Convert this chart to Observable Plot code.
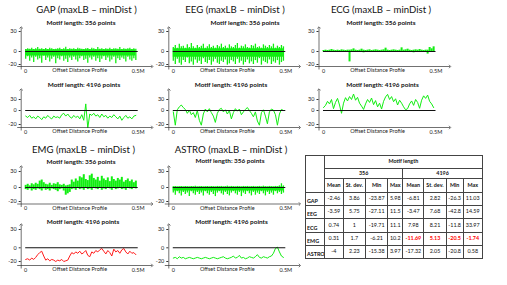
<!DOCTYPE html>
<html><head><meta charset="utf-8">
<script src="https://cdn.jsdelivr.net/npm/d3@7"></script>
<script src="https://cdn.jsdelivr.net/npm/@observablehq/plot@0.6"></script>
<style>
html,body{margin:0;padding:0;background:#fff;}
#root{position:relative;width:507px;height:285px;overflow:hidden;font-family:Lato,"Open Sans",sans-serif;color:#111;}
.layer{position:absolute;left:0;top:0;}
.title{position:absolute;font-size:9.6px;white-space:nowrap;transform:translate(-50%,-50%);line-height:1;}
.sub{position:absolute;font-size:6.4px;font-weight:bold;white-space:nowrap;transform:translate(-50%,-50%);line-height:1;}
#tbl{position:absolute;left:305px;top:155px;border-collapse:collapse;table-layout:fixed;font-size:5.4px;line-height:1;}
#tbl td{border:0.8px solid #444;padding:0;text-align:center;vertical-align:middle;overflow:hidden;white-space:nowrap;}
#tbl td.lab{text-align:left;vertical-align:bottom;font-weight:bold;padding-left:1px;padding-bottom:0.5px;}
#tbl td.hd{font-weight:bold;}
#tbl td.red{color:#ff0000;font-weight:bold;}
</style>
</head><body>
<div id="root"></div>
<script>
// ---------------- data ----------------
const sampleStep = 8900; // offset units between read samples

const gap356Hi = [3,4,3.5,5,3,4,6,3.5,4,3,4.5,3,5,4,3,3.5,4,5,3,4,6.5,3,4,3.5,4,3,5,4,3.5,3,4,4.5,3,5,4,3,6,3.5,4,3,4,3.5,5,3,4,4,3.5,6,3,4,3.5,4,5,3,4,3.5];
const gap356Lo = [-12,-8,-15,-10,-17,-9,-13,-11,-18,-7,-14,-10,-16,-12,-9,-19,-11,-13,-8,-15,-12,-17,-10,-14,-9,-13,-16,-11,-8,-14,-12,-18,-10,-13,-9,-15,-11,-17,-12,-8,-14,-10,-16,-13,-9,-19,-11,-14,-10,-12,-16,-9,-13,-15,-11,-14];
const gap356Core = [-7, 2.5];
const gap4196 = [-8,-10,-7,-11,-9,-12,-8,-10,-13,-9,-11,-7,-10,-12,-8,-10,-9,-11,-6,-4,-8,-5,-9,-11,-7,-10,-8,-12,-6,-14,18,-25,-5,-7,-4,-8,-6,-10,-5,-9,-7,-11,-8,-10,-6,-9,-12,-8,-14,-10,-7,-11,-9,-12,-8,-7];

const eeg356Hi = [6,9,5,11,7,8,5,10,6,12,7,5,9,6,8,11,5,7,10,6,8,5,9,7,11,6,8,5,10,7,6,9,12,5,8,7,10,6,5,9,8,11,6,7,5,10,8,6,9,7,11,5,8,6,9,7];
const eeg356Lo = [-15,-20,-12,-18,-21,-14,-17,-10,-19,-16,-21,-13,-18,-15,-20,-11,-17,-19,-14,-21,-16,-12,-18,-20,-15,-17,-13,-21,-19,-14,-16,-20,-12,-18,-15,-21,-17,-13,-19,-16,-20,-14,-18,-11,-21,-15,-17,-19,-13,-20,-16,-18,-14,-21,-17,-15];
const eeg356Core = [-9, 4];
const eeg4196 = [-2,-21,2,10,15,8,3,-4,1,-6,-3,-10,0,-14,-21,-5,4,-2,5,-3,-8,-17,-4,3,6,-2,2,-5,0,-12,-3,5,-1,4,-6,-2,3,8,0,-4,-9,-2,-15,-21,-3,2,-8,-19,-2,4,1,-6,-21,-5,3,0];

const ecg356Hi = [1.5,2,1.5,2,3,2,1.5,2,1.5,2.5,2,1.5,2,2,2.5,4,2,1.5,2,3.5,2,1.5,2,2.5,1.5,2,2.5,2,1.5,2,2.5,5,2,1.5,2,2.5,2,1.5,2,5.5,2,2.5,3.5,2,1.5,2,2.5,2,3,2,1.5,2,2,6,4,7];
const ecg356Lo = [-0.5,0,-0.5,-1,0,-0.5,-1,0,-0.5,-1,0,-0.5,-1,-16,-0.5,0,-1,-0.5,0,-0.5,-2,0,-0.5,-1,0,-0.5,-1,0,-0.5,-1,0,-0.5,-1,-1.5,0,-0.5,-1,0,-0.5,-1,0,-0.5,-1,0,-0.5,-2,0,-0.5,-1,0,-0.5,-1,-4,-1,-0.5,-1];
const ecg4196 = [8,14,25,18,30,5,22,33,15,-4,20,35,26,38,30,45,28,36,20,12,3,18,30,22,34,16,27,10,20,4,25,37,44,30,38,24,32,15,28,20,10,2,5,18,26,14,30,22,6,28,40,33,42,25,18,8];

const emg356Hi = [4,6,3,7,5,8,6,12,14,9,6,5,8,4,7,6,9,5,4,6,3,4,5,14,10,16,12,20,18,24,15,13,22,25,17,14,19,12,21,16,13,18,11,20,15,12,17,14,19,10,13,16,11,14,9,12];
const emg356Lo = [-3,-4,-2,-5,-3,-4,-2,-3,-5,-2,-4,-3,-5,-2,-3,-4,-6,-3,-2,-5,-11,-9,-7,-3,-2,-4,-1,-3,-2,-4,-1,-3,-2,-4,-1,-2,-3,-1,-4,-2,-3,-1,-2,-4,-1,-3,-2,-1,-3,-2,-4,-1,-2,-3,-1,-2];
const emg4196 = [-17,-16,-18,-15,-17,-14,-10,-7,-5,-12,-18,-16,-19,-17,-18,-20,-18,-19,-17,-20,-19,-18,-12,-7,-9,-6,-8,-5,-9,-7,-4,-11,-13,-6,-8,-4,-6,-3,-1,-5,-9,-4,-7,-12,-2,-6,-4,-8,-3,-1,-6,-9,-5,-8,-7,-10];

const astro356Hi = [1.5,2,1,1.5,2,1,2,1.5,1,2,1.5,2.5,1,1.5,2,1,1.5,2,1,2,1.5,1,2,1.5,2,1,1.5,2.5,1,2,1.5,1,2,1.5,1,2,1.5,2,1,1.5,2,1,1.5,2,1,2.5,1.5,1,2,1.5,1,2,1.5,3,7,3];
const astro356Lo = [-8,-11,-6,-9,-12,-7,-10,-8,-13,-6,-9,-11,-7,-10,-8,-12,-6,-9,-11,-7,-10,-13,-8,-6,-9,-11,-7,-10,-12,-8,-6,-9,-11,-7,-13,-8,-10,-6,-9,-12,-7,-11,-8,-10,-6,-9,-12,-7,-10,-8,-11,-6,-9,-7,-10,-8];
const astro356Core = [-5, 1];
const astro4196 = [-15,-14,-16,-13,-15,-14,-16,-15,-14,-15,-16,-15,-14,-15,-16,-15,-14,-15,-16,-15,-14,-15,-16,-15,-14,-13,-15,-16,-15,-14,-12,-15,-14,-11,-15,-14,-16,-15,-13,-14,-15,-13,-10,-14,-15,-13,-14,-15,-13,-12,-8,-1,1,-6,-12,-14];

const yTicks = [-20, 0, 30];
const xTicks = [0, 500000];
const xTickLabels = ["0", "0.5M"];
const xLabel = "Offset Distance Profile";

const datasets = ["GAP", "EEG", "ECG", "EMG", "ASTRO"];
const motifLengths = ["356", "4196"];
const statNames = ["Mean", "St. dev.", "Min", "Max"];
const statsGAP   = ["-2.46","3.86","-23.87","5.98","-6.81","2.82","-26.3","11.03"];
const statsEEG   = ["-3.59","5.75","-27.11","11.5","-3.47","7.68","-42.8","14.59"];
const statsECG   = ["0.74","1","-19.71","11.1","7.98","8.21","-11.8","33.97"];
const statsEMG   = ["0.31","1.7","-6.21","10.2","-11.69","5.13","-20.5","-1.74"];
const statsASTRO = ["-4","2.23","-15.38","3.97","-17.32","2.05","-20.8","0.58"];

// ---------------- layout ----------------
const W = 507, H = 285;
const GREEN = "#11ee11", RED = "#ff1a1a";
const colAxis = [20.7, 168.3, 318.5];
const rowGeom = {
  A1: {range: [64, 51, 31], xAxis: 66, top: 27},
  A2: {range: [124, 110, 99], xAxis: 127, top: 89},
  B1: {range: [201, 187, 171], xAxis: 203.5, top: 166},
  B2: {range: [261, 247.3, 229], xAxis: 265, top: 224}
};
const titles = [
  {t: "GAP (maxLB – minDist )", x: 86.5, y: 9.5},
  {t: "EEG (maxLB – minDist )", x: 235, y: 9.5},
  {t: "ECG (maxLB – minDist )", x: 381, y: 9.5},
  {t: "EMG (maxLB – minDist )", x: 83.5, y: 150},
  {t: "ASTRO (maxLB – minDist )", x: 231, y: 150}
];
const subs = [
  {m: 0, x: 81, y: 23}, {m: 1, x: 84, y: 85},
  {m: 0, x: 245, y: 23}, {m: 1, x: 231, y: 85},
  {m: 0, x: 381, y: 23}, {m: 1, x: 382.5, y: 85},
  {m: 0, x: 81, y: 161.5}, {m: 1, x: 83, y: 221.5},
  {m: 0, x: 230, y: 161}, {m: 1, x: 231.5, y: 221.5}
];

const panels = [
  {col: 0, row: "A1", hi: gap356Hi, lo: gap356Lo, core: gap356Core},
  {col: 0, row: "A2", line: gap4196},
  {col: 1, row: "A1", hi: eeg356Hi, lo: eeg356Lo, core: eeg356Core},
  {col: 1, row: "A2", line: eeg4196},
  {col: 2, row: "A1", hi: ecg356Hi, lo: ecg356Lo},
  {col: 2, row: "A2", line: ecg4196},
  {col: 0, row: "B1", hi: emg356Hi, lo: emg356Lo},
  {col: 0, row: "B2", line: emg4196, color: RED},
  {col: 1, row: "B1", hi: astro356Hi, lo: astro356Lo, core: astro356Core},
  {col: 1, row: "B2", line: astro4196}
];

const root = document.getElementById("root");

for (const p of panels) {
  const ax = colAxis[p.col];
  const g = rowGeom[p.row];
  const xr = [ax + 4.5, ax + 117];
  const xs = d3.scaleLinear().domain([0, 500000]).range(xr);
  // the original axes are not uniform above / below zero: piecewise mapping applied as Plot's scale transform
  const ys = d3.scaleLinear().domain([-20, 0, 30]).range(g.range);
  const tickPos = yTicks.map(ys);
  const yAxisX = xs.invert(ax);
  const xAxisY = ys.invert(g.xAxis);
  const color = p.color || GREEN;
  const marks = [];
  if (p.hi) {
    const rows = p.hi.map((h, i) => ({x: i * sampleStep, hi: h, lo: p.lo[i]}));
    if (p.core) {
      const ends = [rows[0].x, rows[rows.length - 1].x];
      marks.push(Plot.areaY(ends, {x: d => d, y1: p.core[0], y2: p.core[1], fill: color}));
    }
    marks.push(Plot.ruleX(rows, {x: "x", y1: "lo", y2: "hi", stroke: color, strokeWidth: p.core ? 1.3 : 2}));
  } else {
    const rows = p.line.map((v, i) => ({x: i * sampleStep, v}));
    marks.push(Plot.line(rows, {x: "x", y: "v", stroke: color, strokeWidth: 1}));
  }
  marks.push(Plot.ruleY([0], {x1: 0, x2: 500000, stroke: "#111", strokeWidth: 1.1}));
  marks.push(Plot.link([0], {x1: yAxisX, x2: yAxisX, y1: ys.invert(g.xAxis + 3), y2: ys.invert(g.top), stroke: "#333", strokeWidth: 0.7, markerEnd: "arrow"}));
  marks.push(Plot.link([0], {x1: xs.invert(ax - 4), x2: xs.invert(ax + 131), y1: xAxisY, y2: xAxisY, stroke: "#333", strokeWidth: 0.7, markerEnd: "arrow"}));
  marks.push(Plot.axisY({ticks: tickPos, tickSize: 2, tickPadding: 2.5,
    tickFormat: d => String(yTicks[d3.minIndex(tickPos, t => Math.abs(t - d))]), fontSize: 5.5, stroke: "#333", label: null}));
  marks.push(Plot.axisX({ticks: xTicks, tickSize: 0, tickPadding: 2.5, tickFormat: d => xTickLabels[xTicks.indexOf(d)], fontSize: 5.5, label: null}));
  marks.push(Plot.text([xLabel], {text: d => d, frameAnchor: "bottom", dy: 5.5, fontSize: 5.5}));
  const svg = Plot.plot({
    width: W, height: H,
    marginLeft: ax, marginRight: W - xr[1], marginTop: g.top, marginBottom: H - g.xAxis,
    x: {domain: [0, 500000], range: xr},
    y: {type: "linear", transform: ys, domain: [g.range[0], g.range[2]], range: [g.range[0], g.range[2]]},
    style: {background: "transparent", overflow: "visible", fontFamily: "Lato, 'Open Sans', sans-serif", color: "#222"},
    marks
  });
  svg.classList.add("layer");
  root.appendChild(svg);
}

for (const t of titles) {
  const d = document.createElement("div");
  d.className = "title"; d.textContent = t.t;
  d.style.left = t.x + "px"; d.style.top = t.y + "px";
  root.appendChild(d);
}
for (const s of subs) {
  const d = document.createElement("div");
  d.className = "sub"; d.textContent = "Motif length: " + motifLengths[s.m] + " points";
  d.style.left = s.x + "px"; d.style.top = s.y + "px";
  root.appendChild(d);
}

// ---------------- table ----------------
const colW = [19, 18.7, 22.3, 22.3, 15, 21, 22.4, 17, 19];
const statsRows = [statsGAP, statsEEG, statsECG, statsEMG, statsASTRO];
const tbl = document.createElement("table");
tbl.id = "tbl";
tbl.style.width = d3.sum(colW) + "px";
const cg = document.createElement("colgroup");
for (const w of colW) { const c = document.createElement("col"); c.style.width = w + "px"; cg.appendChild(c); }
tbl.appendChild(cg);
function tr(h) { const r = document.createElement("tr"); r.style.height = h + "px"; tbl.appendChild(r); return r; }
function td(r, text, cls, span, rspan) {
  const c = document.createElement("td");
  c.textContent = text; if (cls) c.className = cls;
  if (span) c.colSpan = span; if (rspan) c.rowSpan = rspan;
  r.appendChild(c); return c;
}
let r1 = tr(13.3); td(r1, "", "", 1, 3); td(r1, "Motif length", "hd", 8);
let r2 = tr(10); td(r2, motifLengths[0], "hd", 4); td(r2, motifLengths[1], "hd", 4);
let r3 = tr(13.4); for (let k = 0; k < 2; k++) for (const s of statNames) td(r3, s, "hd");
datasets.forEach((name, i) => {
  const r = tr(13.3);
  td(r, name, "lab");
  statsRows[i].forEach((v, j) => td(r, v, (name === "EMG" && j >= 4) ? "red" : ""));
});
root.appendChild(tbl);
</script>
</body></html>
